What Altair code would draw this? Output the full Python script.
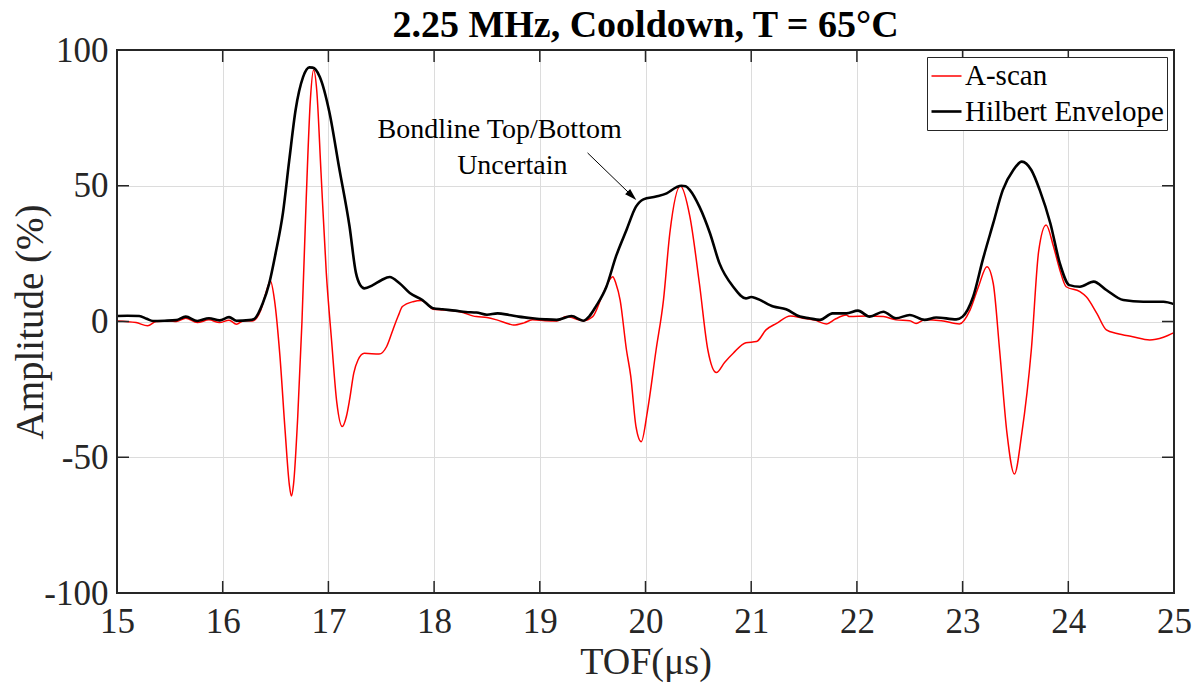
import altair as alt
import pandas as pd

# A-scan waveform (TOF in microseconds, amplitude in %)
ascan_tof = [
    15.00, 15.18, 15.29, 15.37, 15.50, 15.56, 15.65, 15.76, 15.87, 15.97,
    16.06, 16.13, 16.20, 16.28, 16.36, 16.42, 16.45, 16.49, 16.54, 16.59,
    16.63, 16.65, 16.67, 16.71, 16.75, 16.79, 16.83, 16.86, 16.89, 16.93,
    16.98, 17.03, 17.08, 17.13, 17.17, 17.20, 17.24, 17.28, 17.34, 17.48,
    17.55, 17.61, 17.66, 17.70, 17.80, 17.88, 17.93, 17.99, 18.10, 18.24,
    18.40, 18.50, 18.60, 18.71, 18.75, 18.85, 18.93, 19.05, 19.16, 19.25,
    19.41, 19.50, 19.60, 19.69, 19.72, 19.76, 19.82, 19.86, 19.91, 19.96,
    20.02, 20.10, 20.17, 20.23, 20.33, 20.42, 20.51, 20.59, 20.67, 20.75,
    20.83, 20.95, 21.05, 21.14, 21.24, 21.37, 21.49, 21.60, 21.71, 21.80,
    21.90, 21.93, 22.10, 22.25, 22.37, 22.50, 22.56, 22.64, 22.80, 22.97,
    23.07, 23.15, 23.23, 23.29, 23.35, 23.42, 23.49, 23.56, 23.65, 23.72,
    23.79, 23.86, 23.92, 23.98, 24.11, 24.17, 24.27, 24.36, 24.46, 24.61,
    24.77, 24.90, 25.00,
]
ascan_amp = [
    0.2, -0.4, -1.6, 0.0, 0.2, 0.0, 1.2, -0.4, 0.6, -0.4,
    0.5, -1.0, 0.3, 0.2, 4.2, 12.0, 15.0, 7.9, -12.0, -40.0,
    -60.0, -64.3, -60.0, -35.0, 0.0, 45.0, 82.0, 92.6, 85.0, 55.0,
    18.0, -7.0, -30.0, -38.7, -35.0, -28.9, -19.0, -14.2, -11.7, -12.0,
    -9.3, -3.1, 2.0, 5.5, 7.3, 7.7, 6.5, 4.5, 4.2, 3.6,
    1.8, 1.5, 0.5, -0.9, -1.3, -0.5, 0.6, 0.3, 0.2, 1.8,
    0.3, 1.8, 10.4, 16.5, 14.0, 7.9, -10.5, -20.0, -38.7, -44.3,
    -32.6, -10.5, 7.9, 32.5, 49.9, 38.6, 14.0, -10.5, -18.8, -15.0,
    -11.7, -7.8, -7.4, -3.1, -0.7, 2.0, 1.2, 0.5, -0.9, 1.0,
    2.4, 1.8, 2.0, 1.8, 0.6, 0.3, -0.7, 0.6, 0.3, -0.9,
    4.2, 12.8, 20.2, 14.0, -10.5, -41.2, -56.2, -41.2, -10.5, 26.0,
    35.5, 27.6, 19.0, 12.8, 11.0, 9.1, 3.0, -3.1, -4.4, -5.6,
    -6.8, -5.8, -4.1,
]

# Hilbert envelope of the same signal
env_tof = [
    15.00, 15.10, 15.21, 15.28, 15.34, 15.45, 15.56, 15.65, 15.76, 15.87,
    15.97, 16.06, 16.13, 16.25, 16.30, 16.38, 16.44, 16.50, 16.57, 16.63,
    16.69, 16.76, 16.82, 16.85, 16.88, 16.92, 17.01, 17.10, 17.20, 17.26,
    17.30, 17.34, 17.42, 17.50, 17.58, 17.67, 17.77, 17.89, 17.99, 18.08,
    18.20, 18.30, 18.40, 18.50, 18.60, 18.71, 18.80, 18.93, 19.05, 19.16,
    19.30, 19.41, 19.47, 19.53, 19.63, 19.72, 19.82, 19.91, 19.98, 20.10,
    20.20, 20.29, 20.34, 20.38, 20.42, 20.51, 20.61, 20.70, 20.83, 20.95,
    21.00, 21.05, 21.21, 21.33, 21.46, 21.55, 21.65, 21.77, 21.90, 22.01,
    22.12, 22.25, 22.37, 22.50, 22.64, 22.75, 22.94, 23.00, 23.10, 23.19,
    23.29, 23.38, 23.48, 23.56, 23.65, 23.73, 23.83, 23.92, 24.01, 24.11,
    24.24, 24.36, 24.52, 24.71, 24.90, 25.00,
]
env_amp = [
    2.0, 2.1, 2.0, 1.0, 0.2, 0.3, 0.5, 1.8, 0.2, 1.2,
    0.4, 1.6, 0.3, 0.5, 1.0, 6.8, 14.0, 25.0, 40.0, 59.5,
    78.0, 90.0, 93.6, 93.5, 92.8, 90.0, 77.0, 57.0, 35.0, 18.0,
    13.5, 12.2, 13.4, 15.2, 16.4, 14.2, 10.5, 7.9, 4.9, 4.5,
    4.0, 3.5, 3.3, 2.5, 3.0, 2.4, 1.8, 1.2, 0.8, 0.6,
    2.0, 0.3, 2.0, 5.5, 12.8, 23.9, 33.7, 42.3, 45.0, 46.0,
    47.2, 49.4, 50.0, 49.8, 48.4, 42.3, 32.5, 21.4, 12.8, 8.5,
    9.0, 8.5, 5.5, 4.5, 1.8, 1.2, 0.6, 3.0, 3.0, 4.0,
    1.8, 3.6, 1.2, 2.4, 0.6, 1.5, 0.8, 1.8, 9.1, 22.6,
    36.2, 48.4, 55.8, 58.9, 55.8, 48.4, 36.2, 21.4, 13.4, 12.8,
    14.7, 11.6, 7.9, 7.3, 7.3, 6.4,
]

series_names = ["A-scan", "Hilbert Envelope"]
series_colors = ["#ff0000", "#000000"]
series_widths = [1.5, 2.6]

x_ticks = [15, 16, 17, 18, 19, 20, 21, 22, 23, 24, 25]
y_ticks = [-100, -50, 0, 50, 100]

# Callout text and arrow (data coordinates)
note_lines = ["Bondline Top/Bottom", "Uncertain"]
note_x = [18.62, 18.74]
note_y = [70.5, 57.3]
arrow_x = [19.452, 19.872]
arrow_y = [62.1, 46.28]
arrow_angle = 134

W, H = 1057, 543
FONT = "Liberation Serif"
INK = "#262626"

lines_df = pd.concat([
    pd.DataFrame({"tof": ascan_tof, "amp": ascan_amp, "series": series_names[0]}),
    pd.DataFrame({"tof": env_tof, "amp": env_amp, "series": series_names[1]}),
])

xs = alt.Scale(domain=[15, 25], nice=False, zero=False)
ys = alt.Scale(domain=[-100, 100], nice=False, zero=False)

x_axis = alt.Axis(
    values=x_ticks, labelExpr="'' + datum.value", labelPadding=11,
    title="TOF(\u03bcs)", titleBaseline="alphabetic", titleY=80, titleX=W / 2,
)
y_axis = alt.Axis(
    values=y_ticks, labelExpr="'' + datum.value", labelPadding=9,
    title="Amplitude (%)", titleFontSize=39, titleBaseline="alphabetic",
    titleX=-75, titleY=H / 2, titleAngle=270, titleAlign="center",
)

lines = alt.Chart(lines_df).mark_line(interpolate="monotone").encode(
    x=alt.X("tof:Q", scale=xs, axis=x_axis),
    y=alt.Y("amp:Q", scale=ys, axis=y_axis),
    color=alt.Color(
        "series:N",
        scale=alt.Scale(domain=series_names, range=series_colors),
        legend=alt.Legend(
            title=None, orient="top-right", offset=7,
            labelFont=FONT, labelFontSize=29, labelColor="#000000",
            labelLimit=500,
            symbolType="stroke", symbolSize=900, symbolStrokeWidth=2.5,
            strokeColor=INK, fillColor="#ffffff", padding=3,
            rowPadding=4, labelOffset=2, cornerRadius=0,
        ),
    ),
    strokeWidth=alt.StrokeWidth(
        "series:N",
        scale=alt.Scale(domain=series_names, range=series_widths),
        legend=None,
    ),
)

xt_df = pd.DataFrame({"t": x_ticks})
yt_df = pd.DataFrame({"t": y_ticks})
tick_len = 12

# Inward tick marks on all four sides of the box
ticks_bottom = alt.Chart(xt_df).mark_rule(color=INK, strokeWidth=1.5).encode(
    x=alt.X("t:Q", scale=xs), y=alt.value(H), y2=alt.value(H - tick_len))
ticks_top = alt.Chart(xt_df).mark_rule(color=INK, strokeWidth=1.5).encode(
    x=alt.X("t:Q", scale=xs), y=alt.value(0), y2=alt.value(tick_len))
ticks_left = alt.Chart(yt_df).mark_rule(color=INK, strokeWidth=1.5).encode(
    y=alt.Y("t:Q", scale=ys), x=alt.value(0), x2=alt.value(tick_len))
ticks_right = alt.Chart(yt_df).mark_rule(color=INK, strokeWidth=1.5).encode(
    y=alt.Y("t:Q", scale=ys), x=alt.value(W), x2=alt.value(W - tick_len))

# Dark box around the plot area, drawn above the grid
frame = alt.Chart(pd.DataFrame({"k": [0]})).mark_rect(
    fill=None, fillOpacity=0, stroke=INK, strokeWidth=2
).encode(x=alt.value(0), x2=alt.value(W), y=alt.value(0), y2=alt.value(H))

note_df = pd.DataFrame({"x": note_x, "y": note_y, "text": note_lines})
note = alt.Chart(note_df).mark_text(
    font=FONT, fontSize=28, color="#000000", align="center", baseline="middle"
).encode(x=alt.X("x:Q", scale=xs), y=alt.Y("y:Q", scale=ys), text="text:N")

arrow_df = pd.DataFrame({"x": arrow_x, "y": arrow_y, "o": [0, 1]})
arrow_line = alt.Chart(arrow_df).mark_line(color="#000000", strokeWidth=1).encode(
    x=alt.X("x:Q", scale=xs), y=alt.Y("y:Q", scale=ys), order="o:Q")
head_df = pd.DataFrame({"x": [arrow_x[-1]], "y": [arrow_y[-1]]})
arrow_head = alt.Chart(head_df).mark_point(
    shape="M0,-1L0.6,1L-0.6,1Z", filled=True, color="#000000", opacity=1,
    size=144, angle=arrow_angle,
).encode(x=alt.X("x:Q", scale=xs), y=alt.Y("y:Q", scale=ys))

chart = alt.layer(
    lines, ticks_bottom, ticks_top, ticks_left, ticks_right, frame,
    note, arrow_line, arrow_head,
).properties(
    width=W, height=H,
    background="#ffffff",
    title=alt.TitleParams(
        "2.25 MHz, Cooldown, T = 65\u00b0C", font=FONT, fontSize=38,
        fontWeight="bold", color="#000000", anchor="middle", offset=-12,
    ),
    autosize=alt.AutoSizeParams(type="none"),
    padding={"left": 117, "top": 50, "right": 21, "bottom": 92},
).configure_view(
    stroke=None
).configure_axis(
    grid=True, gridColor="#dcdcdc", gridWidth=1, domain=False, ticks=False,
    labelFlush=False, labelOverlap=False,
    labelFont=FONT, labelFontSize=35, labelColor=INK,
    titleFont=FONT, titleFontSize=38, titleFontWeight="normal", titleColor=INK,
)

chart.save("out.html", embed_options={"renderer": "svg", "actions": False})
